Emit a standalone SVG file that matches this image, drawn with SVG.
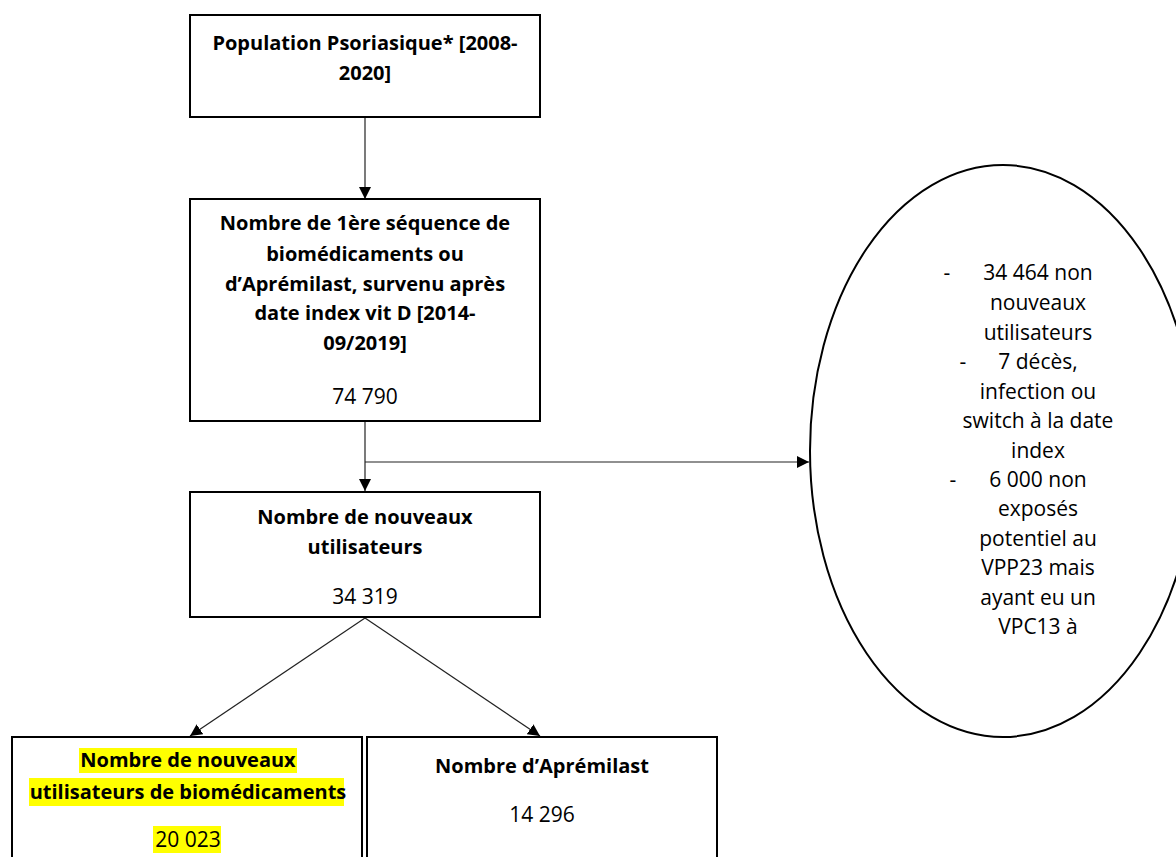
<svg xmlns="http://www.w3.org/2000/svg" width="1176" height="857" viewBox="0 0 1176 857">
<style>
.box{fill:#fff;stroke:#000;stroke-width:2}
.t{font-family:"Open Sans","Liberation Sans",sans-serif;font-size:21px;fill:#000;text-anchor:middle}
.b{font-weight:bold;font-size:20px}
.c{stroke:#222;stroke-width:1.2;fill:none}
.hl{fill:#ffff00}
</style>
<defs>
<marker id="ah" viewBox="0 0 10 10" refX="10" refY="5" markerWidth="12" markerHeight="12" markerUnits="userSpaceOnUse" orient="auto">
<path d="M0,0 L10,5 L0,10 z" fill="#000"/>
</marker>
</defs>
<rect width="1176" height="857" fill="#fff"/>
<g id="connectors">
<line class="c" x1="365" y1="117" x2="365" y2="199" marker-end="url(#ah)"/>
<line class="c" x1="365" y1="422" x2="365" y2="491" marker-end="url(#ah)"/>
<line class="c" x1="365" y1="462" x2="809" y2="462" marker-end="url(#ah)"/>
<line class="c" x1="365" y1="618" x2="190" y2="736" marker-end="url(#ah)"/>
<line class="c" x1="365" y1="618" x2="540" y2="736" marker-end="url(#ah)"/>
</g>
<g id="n1">
<rect class="box" x="190" y="15" width="350" height="102"/>
<text class="t b" x="365" y="50">Population Psoriasique* [2008-</text>
<text class="t b" x="365" y="80">2020]</text>
</g>
<g id="n2">
<rect class="box" x="190" y="199" width="350" height="222"/>
<text class="t b" x="365" y="230">Nombre de 1ère séquence de</text>
<text class="t b" x="365" y="261">biomédicaments ou</text>
<text class="t b" x="365" y="291">d’Aprémilast, survenu après</text>
<text class="t b" x="365" y="320">date index vit D [2014-</text>
<text class="t b" x="365" y="350">09/2019]</text>
<text class="t" x="365" y="404">74 790</text>
</g>
<g id="n3">
<rect class="box" x="190" y="492" width="350" height="125"/>
<text class="t b" x="365" y="524">Nombre de nouveaux</text>
<text class="t b" x="365" y="554">utilisateurs</text>
<text class="t" x="365" y="604">34 319</text>
</g>
<g id="n4">
<ellipse class="box" cx="1003" cy="451" rx="193" ry="286"/>
<text class="t" x="947" y="280">-</text>
<text class="t" x="1038" y="280">34 464 non</text>
<text class="t" x="1038" y="310">nouveaux</text>
<text class="t" x="1038" y="340">utilisateurs</text>
<text class="t" x="963" y="369">-</text>
<text class="t" x="1038" y="369">7 décès,</text>
<text class="t" x="1038" y="399">infection ou</text>
<text class="t" x="1038" y="428">switch à la date</text>
<text class="t" x="1038" y="458">index</text>
<text class="t" x="953" y="487">-</text>
<text class="t" x="1038" y="487">6 000 non</text>
<text class="t" x="1038" y="516">exposés</text>
<text class="t" x="1038" y="546">potentiel au</text>
<text class="t" x="1038" y="575">VPP23 mais</text>
<text class="t" x="1038" y="605">ayant eu un</text>
<text class="t" x="1038" y="634">VPC13 à</text>
</g>
<g id="n5">
<rect class="box" x="12" y="737" width="350" height="130"/>
<rect class="hl" x="79" y="748" width="218" height="25"/>
<rect class="hl" x="29" y="778" width="315" height="28"/>
<rect class="hl" x="153" y="826" width="68" height="27"/>
<text class="t b" x="188" y="767">Nombre de nouveaux</text>
<text class="t b" x="188" y="799">utilisateurs de biomédicaments</text>
<text class="t" x="188" y="847">20 023</text>
</g>
<g id="n6">
<rect class="box" x="367" y="737" width="350" height="130"/>
<text class="t b" x="542" y="773">Nombre d’Aprémilast</text>
<text class="t" x="542" y="822">14 296</text>
</g>
</svg>
